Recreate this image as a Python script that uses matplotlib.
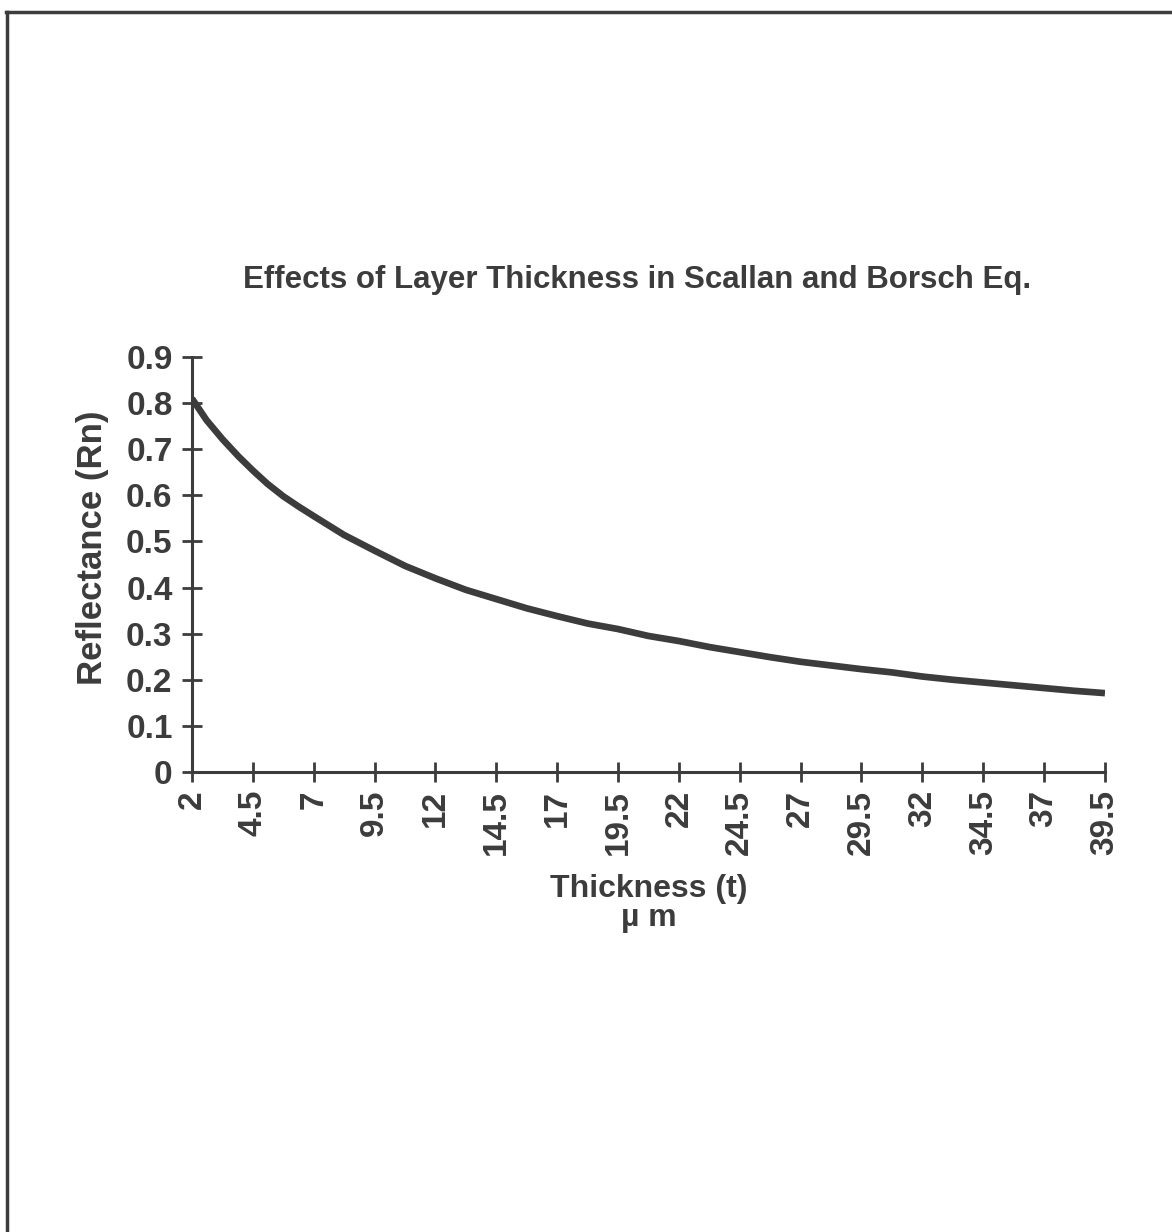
import matplotlib
matplotlib.use("Agg")
import matplotlib.pyplot as plt
from matplotlib.lines import Line2D

# Thickness values (um) and reflectance
thickness = [2, 2.6, 3.25, 3.9, 4.5, 5.1, 5.75, 6.4, 7, 8.25, 9.5, 10.75, 12,
             13.25, 14.5, 15.75, 17, 18.25, 19.5, 20.75, 22, 23.25, 24.5,
             25.75, 27, 28.25, 29.5, 30.75, 32, 33.25, 34.5, 35.75, 37, 38.25,
             39.5]
reflectance = [0.81, 0.763, 0.722, 0.685, 0.654, 0.625, 0.598, 0.575, 0.555,
               0.514, 0.48, 0.447, 0.42, 0.395, 0.375, 0.355, 0.338, 0.322,
               0.31, 0.295, 0.284, 0.271, 0.26, 0.249, 0.239, 0.231, 0.223,
               0.216, 0.207, 0.2, 0.194, 0.188, 0.182, 0.176, 0.171]

x_ticks = [2, 4.5, 7, 9.5, 12, 14.5, 17, 19.5, 22, 24.5, 27, 29.5, 32, 34.5, 37, 39.5]
x_tick_labels = ["2", "4.5", "7", "9.5", "12", "14.5", "17", "19.5", "22",
                 "24.5", "27", "29.5", "32", "34.5", "37", "39.5"]
y_ticks = [0, 0.1, 0.2, 0.3, 0.4, 0.5, 0.6, 0.7, 0.8, 0.9]
y_tick_labels = ["0", "0.1", "0.2", "0.3", "0.4", "0.5", "0.6", "0.7", "0.8", "0.9"]

ink = "#3c3c3c"
plt.rcParams['font.family'] = ['Liberation Sans', 'DejaVu Sans']
plt.rcParams['font.weight'] = 'bold'

fig = plt.figure(figsize=(11.72, 12.32), dpi=100)
ax = fig.add_axes([0.1638, 0.3734, 0.7790, 0.3368])

ax.plot(thickness, reflectance, color=ink, linewidth=4.8,
        solid_capstyle='butt', solid_joinstyle='round')

ax.set_xlim(2, 39.5)
ax.set_ylim(0, 0.9)
ax.set_xticks(x_ticks)
ax.set_xticklabels(x_tick_labels, rotation=90, fontsize=24, fontweight='bold', color=ink)
ax.set_yticks(y_ticks)
ax.set_yticklabels(y_tick_labels, fontsize=24, fontweight='bold', color=ink)
ax.tick_params(axis='both', direction='inout', length=14, width=2, color=ink)
ax.tick_params(axis='x', pad=6)
ax.tick_params(axis='y', pad=7)

for side in ['top', 'right']:
    ax.spines[side].set_visible(False)
for side in ['left', 'bottom']:
    ax.spines[side].set_color(ink)
    ax.spines[side].set_linewidth(2.2)

ax.set_title("Effects of Layer Thickness in Scallan and Borsch Eq.",
             fontsize=22.5, fontweight='bold', color=ink, pad=50, x=0.487)
ax.set_ylabel("Reflectance (Rn)", fontsize=25, fontweight='bold', color=ink,
              labelpad=12, y=0.54)
ax.set_xlabel("Thickness (t)\n\u00b5 m", fontsize=23, fontweight='bold', color=ink,
              linespacing=0.95, labelpad=14)

# page border of the scanned sheet
fig.add_artist(Line2D([0.005, 1.0], [0.990, 0.990], color=ink, linewidth=2.5))
fig.add_artist(Line2D([0.006, 0.006], [0.0, 0.990], color=ink, linewidth=2.5))

fig.savefig("out.png", dpi=100, facecolor='white')
